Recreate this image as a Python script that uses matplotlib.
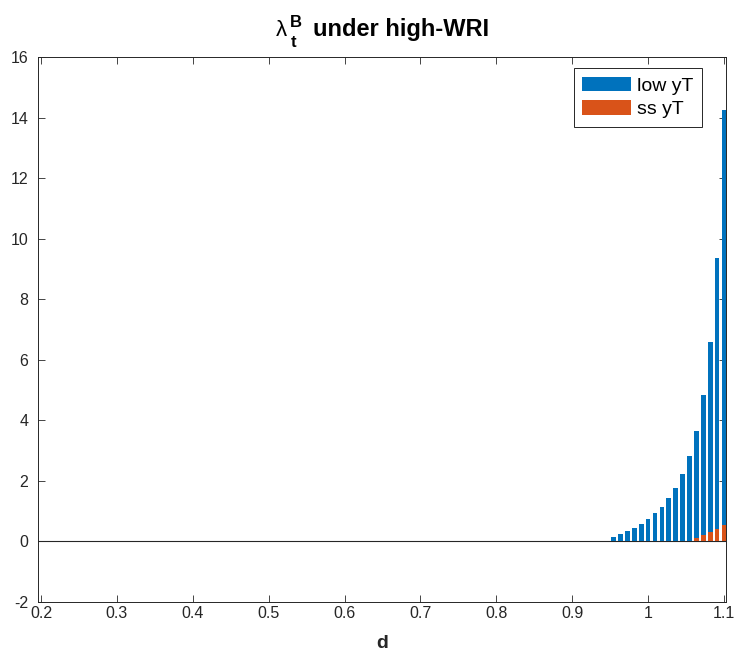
import matplotlib
matplotlib.use("Agg")
import matplotlib.pyplot as plt

plt.rcParams['font.family'] = ['Liberation Sans', 'DejaVu Sans']
plt.rcParams['axes.unicode_minus'] = False

# d grid points with non-zero multipliers (rest of the grid 0.2..1.1 is zero)
d_low = [0.9545, 0.9636, 0.9727, 0.9818, 0.9909, 1.0, 1.0091, 1.0182, 1.0273,
         1.0364, 1.0455, 1.0545, 1.0636, 1.0727, 1.0818, 1.0909, 1.1]
low_yT = [0.135, 0.23, 0.33, 0.45, 0.58, 0.74, 0.93, 1.14, 1.42,
          1.77, 2.23, 2.83, 3.66, 4.83, 6.58, 9.37, 14.25]
d_ss = [1.0636, 1.0727, 1.0818, 1.0909, 1.1]
ss_yT = [0.12, 0.21, 0.31, 0.42, 0.55]

xticks = [0.2, 0.3, 0.4, 0.5, 0.6, 0.7, 0.8, 0.9, 1.0, 1.1]
xticklabels = ['0.2', '0.3', '0.4', '0.5', '0.6', '0.7', '0.8', '0.9', '1', '1.1']
yticks = list(range(-2, 17, 2))

blue = '#0072BD'
orange = '#D95319'
axcol = '#262626'
step = 0.9 / 99

fig = plt.figure(figsize=(7.37, 6.52), dpi=100)
ax = fig.add_axes([0.0516, 0.0767, 0.9335, 0.8359])

ax.axhline(0, color=axcol, lw=0.8, zorder=1)
ax.bar(d_low, low_yT, width=step * 0.68, color=blue, label='low yT', zorder=2)
ax.bar(d_ss, ss_yT, width=step * 0.68, color=orange, label='ss yT', zorder=3)

ax.set_xlim(0.196, 1.1027)
ax.set_ylim(-2, 16)
ax.set_xticks(xticks)
ax.set_xticklabels(xticklabels)
ax.set_yticks(yticks)
ax.tick_params(direction='in', top=True, right=True, labelsize=11.5,
               color=axcol, labelcolor=axcol, length=5, width=0.6)
ax.tick_params(axis='y', pad=7)
ax.tick_params(axis='x', pad=3)
for s in ax.spines.values():
    s.set_color(axcol)
    s.set_linewidth(0.7)

ax.set_xlabel('d', fontsize=14, fontweight='bold', color=axcol, labelpad=10)

# title: lambda with bold sub/superscript, MATLAB TeX style
fig.text(0.3745, 0.9448, '\u03bb', fontsize=16, va='baseline')
fig.text(0.3935, 0.9586, 'B', fontsize=12, fontweight='bold', va='baseline')
fig.text(0.3950, 0.9279, 't', fontsize=12, fontweight='bold', va='baseline')
fig.text(0.4247, 0.9448, 'under high-WRI', fontsize=17, fontweight='bold',
         va='baseline')

leg = ax.legend(loc='upper right', bbox_to_anchor=(0.965, 0.98), fontsize=14,
                handlelength=2.5, handleheight=0.75, handletextpad=0.3,
                labelspacing=0.3, borderpad=0.45, borderaxespad=0,
                fancybox=False, framealpha=1, edgecolor=axcol)
leg.get_frame().set_linewidth(0.7)

fig.savefig('out.png', dpi=100)
plt.close(fig)
